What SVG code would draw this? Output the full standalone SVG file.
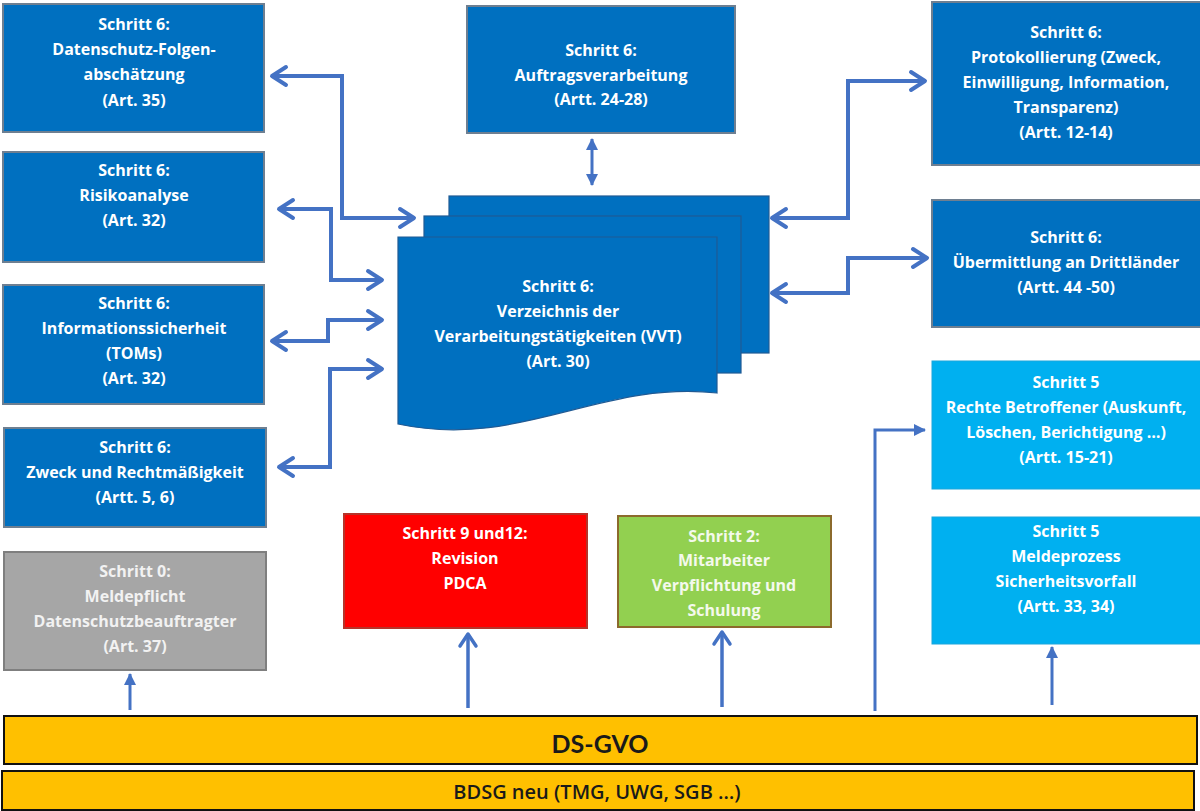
<svg xmlns="http://www.w3.org/2000/svg" width="1200" height="811" viewBox="0 0 1200 811">
<style>
.t{font-family:"Open Sans",Lato,"Liberation Sans",Arial,sans-serif;font-weight:bold;font-size:16px;fill:#ffffff;text-anchor:middle}
.blue{fill:#0070C0;stroke:#6E7F91;stroke-width:2}
.lblue{fill:#00B0F0;stroke:#1AA6DC;stroke-width:1}
.page{fill:#0070C0;stroke:#1F5A94;stroke-width:1.2}
.c{fill:none;stroke:#4472C4;stroke-width:4;stroke-linejoin:miter}
.c3{fill:none;stroke:#4472C4;stroke-width:3}
.bar{fill:#FFC000;stroke:#111111;stroke-width:2}
</style>
<defs>
<marker id="chev" viewBox="0 0 20 24" refX="17" refY="12" markerWidth="20" markerHeight="24" markerUnits="userSpaceOnUse" orient="auto-start-reverse">
<path d="M3,3 L17,12 L3,21" fill="none" stroke="#4472C4" stroke-width="4" stroke-linecap="round" stroke-linejoin="round"/>
</marker>
<marker id="chevs" viewBox="0 0 18 22" refX="15" refY="11" markerWidth="18" markerHeight="22" markerUnits="userSpaceOnUse" orient="auto-start-reverse">
<path d="M3,3 L15,11 L3,19" fill="none" stroke="#4472C4" stroke-width="3.5" stroke-linecap="round" stroke-linejoin="round"/>
</marker>
<marker id="tri" viewBox="0 0 12 12" refX="11" refY="6" markerWidth="12" markerHeight="12" markerUnits="userSpaceOnUse" orient="auto-start-reverse">
<path d="M0,0 L12,6 L0,12 z" fill="#4472C4"/>
</marker>
</defs>
<rect width="1200" height="811" fill="#ffffff"/>

<g id="connectors">
<path class="c" d="M272,76 H342 V218 H414" marker-start="url(#chev)" marker-end="url(#chev)"/>
<path class="c" d="M279,209 H331 V280 H382" marker-start="url(#chev)" marker-end="url(#chev)"/>
<path class="c" d="M272,341 H328 V320 H382" marker-start="url(#chev)" marker-end="url(#chev)"/>
<path class="c" d="M279,467 H330 V369 H382" marker-start="url(#chev)" marker-end="url(#chev)"/>
<path class="c" d="M772,218 H848 V81 H925" marker-start="url(#chev)" marker-end="url(#chev)"/>
<path class="c" d="M772,293 H848 V258 H927" marker-start="url(#chev)" marker-end="url(#chev)"/>
<path class="c3" d="M592,139 V185" marker-start="url(#tri)" marker-end="url(#tri)"/>
<path class="c3" d="M130,710 V674" marker-end="url(#tri)"/>
<path class="c" style="stroke-width:3.5" d="M468,708 V634" marker-end="url(#chevs)"/>
<path class="c" style="stroke-width:3.5" d="M722,707 V632" marker-end="url(#chevs)"/>
<path class="c3" d="M875,711 V430 H925" marker-end="url(#tri)"/>
<path class="c3" d="M1052,705 V647" marker-end="url(#tri)"/>
</g>

<g id="node-dsfa">
<rect class="blue" x="3" y="4" width="261" height="128"/>
<text class="t" x="134" y="30">Schritt 6:</text>
<text class="t" x="134" y="55">Datenschutz-Folgen-</text>
<text class="t" x="134" y="80">abschätzung</text>
<text class="t" x="134" y="106">(Art. 35)</text>
</g>
<g id="node-risiko">
<rect class="blue" x="3" y="152" width="261" height="110"/>
<text class="t" x="134" y="176">Schritt 6:</text>
<text class="t" x="134" y="201">Risikoanalyse</text>
<text class="t" x="134" y="226">(Art. 32)</text>
</g>
<g id="node-infosec">
<rect class="blue" x="3" y="285" width="261" height="119"/>
<text class="t" x="134" y="309">Schritt 6:</text>
<text class="t" x="134" y="334">Informationssicherheit</text>
<text class="t" x="134" y="359">(TOMs)</text>
<text class="t" x="134" y="384">(Art. 32)</text>
</g>
<g id="node-zweck">
<rect class="blue" x="4" y="428" width="262" height="99"/>
<text class="t" x="135" y="453">Schritt 6:</text>
<text class="t" x="135" y="478">Zweck und Rechtmäßigkeit</text>
<text class="t" x="135" y="503">(Artt. 5, 6)</text>
</g>
<g id="node-meldepflicht">
<rect x="4" y="552" width="262" height="118" fill="#A6A6A6" stroke="#7F7F7F" stroke-width="2"/>
<text class="t" x="135" y="577" style="fill:#F2F2F2">Schritt 0:</text>
<text class="t" x="135" y="602" style="fill:#F2F2F2">Meldepflicht</text>
<text class="t" x="135" y="627" style="fill:#F2F2F2">Datenschutzbeauftragter</text>
<text class="t" x="135" y="652" style="fill:#F2F2F2">(Art. 37)</text>
</g>
<g id="node-auftrag">
<rect class="blue" x="467" y="6" width="268" height="127"/>
<text class="t" x="601" y="56">Schritt 6:</text>
<text class="t" x="601" y="81">Auftragsverarbeitung</text>
<text class="t" x="601" y="105">(Artt. 24-28)</text>
</g>
<g id="node-vvt">
<rect class="page" x="449" y="196" width="320" height="157"/>
<rect class="page" x="424" y="216" width="317" height="157"/>
<path class="page" d="M398,237 H717 V393 C600,380 520,450 398,424 Z"/>
<text class="t" x="558" y="292">Schritt 6:</text>
<text class="t" x="558" y="317">Verzeichnis der</text>
<text class="t" x="558" y="342">Verarbeitungstätigkeiten (VVT)</text>
<text class="t" x="558" y="367">(Art. 30)</text>
</g>
<g id="node-protokoll">
<rect class="blue" x="932" y="2" width="270" height="163"/>
<text class="t" x="1066" y="38">Schritt 6:</text>
<text class="t" x="1066" y="63">Protokollierung (Zweck,</text>
<text class="t" x="1066" y="88">Einwilligung, Information,</text>
<text class="t" x="1066" y="113">Transparenz)</text>
<text class="t" x="1066" y="138">(Artt. 12-14)</text>
</g>
<g id="node-uebermittlung">
<rect class="blue" x="932" y="200" width="270" height="127"/>
<text class="t" x="1066" y="243">Schritt 6:</text>
<text class="t" x="1066" y="268">Übermittlung an Drittländer</text>
<text class="t" x="1066" y="293">(Artt. 44 -50)</text>
</g>
<g id="node-rechte">
<rect class="lblue" x="932" y="361" width="270" height="128"/>
<text class="t" x="1066" y="388">Schritt 5</text>
<text class="t" x="1066" y="413">Rechte Betroffener (Auskunft,</text>
<text class="t" x="1066" y="438">Löschen, Berichtigung …)</text>
<text class="t" x="1066" y="463">(Artt. 15-21)</text>
</g>
<g id="node-meldeprozess">
<rect class="lblue" x="932" y="517" width="270" height="127"/>
<text class="t" x="1066" y="537">Schritt 5</text>
<text class="t" x="1066" y="562">Meldeprozess</text>
<text class="t" x="1066" y="587">Sicherheitsvorfall</text>
<text class="t" x="1066" y="612">(Artt. 33, 34)</text>
</g>
<g id="node-revision">
<rect x="344" y="514" width="243" height="114" fill="#FF0000" stroke="#B5342A" stroke-width="2"/>
<text class="t" x="465" y="539">Schritt 9 und12:</text>
<text class="t" x="465" y="564">Revision</text>
<text class="t" x="465" y="589">PDCA</text>
</g>
<g id="node-mitarbeiter">
<rect x="618" y="516" width="213" height="111" fill="#92D050" stroke="#8C6A2C" stroke-width="2"/>
<text class="t" x="724" y="542" style="fill:#F4F9EC">Schritt 2:</text>
<text class="t" x="724" y="566" style="fill:#F4F9EC">Mitarbeiter</text>
<text class="t" x="724" y="591" style="fill:#F4F9EC">Verpflichtung und</text>
<text class="t" x="724" y="616" style="fill:#F4F9EC">Schulung</text>
</g>
<g id="node-dsgvo">
<rect class="bar" x="4" y="716" width="1193" height="48"/>
<text x="600" y="753" text-anchor="middle" font-family="Lato,'Liberation Sans',Arial,sans-serif" font-weight="bold" font-size="25" fill="#1A1A1A">DS-GVO</text>
</g>
<g id="node-bdsg">
<rect class="bar" x="2" y="771" width="1192" height="39"/>
<text x="597" y="799" text-anchor="middle" font-family="'Open Sans',Lato,'Liberation Sans',Arial,sans-serif" font-weight="600" font-size="20" fill="#1A1A1A">BDSG neu (TMG, UWG, SGB …)</text>
</g>
</svg>
